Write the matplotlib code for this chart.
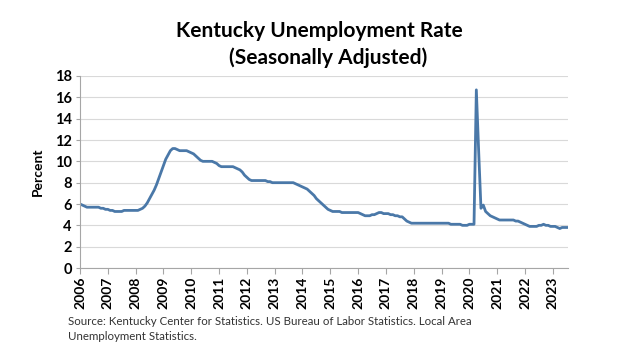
import matplotlib
matplotlib.use("Agg")
import matplotlib.pyplot as plt
import numpy as np

# monthly rates, Jan 2006 - Jul 2023
rate_2006 = [6.0, 5.9, 5.8, 5.7, 5.7, 5.7, 5.7, 5.7, 5.7, 5.6, 5.6, 5.5]
rate_2007 = [5.5, 5.4, 5.4, 5.3, 5.3, 5.3, 5.3, 5.4, 5.4, 5.4, 5.4, 5.4]
rate_2008 = [5.4, 5.4, 5.5, 5.6, 5.8, 6.1, 6.5, 6.9, 7.3, 7.8, 8.4, 9.0]
rate_2009 = [9.6, 10.2, 10.6, 11.0, 11.2, 11.2, 11.1, 11.0, 11.0, 11.0, 11.0, 10.9]
rate_2010 = [10.8, 10.7, 10.5, 10.3, 10.1, 10.0, 10.0, 10.0, 10.0, 10.0, 9.9, 9.8]
rate_2011 = [9.6, 9.5, 9.5, 9.5, 9.5, 9.5, 9.5, 9.4, 9.3, 9.2, 9.0, 8.7]
rate_2012 = [8.5, 8.3, 8.2, 8.2, 8.2, 8.2, 8.2, 8.2, 8.2, 8.1, 8.1, 8.0]
rate_2013 = [8.0, 8.0, 8.0, 8.0, 8.0, 8.0, 8.0, 8.0, 8.0, 7.9, 7.8, 7.7]
rate_2014 = [7.6, 7.5, 7.4, 7.2, 7.0, 6.8, 6.5, 6.3, 6.1, 5.9, 5.7, 5.5]
rate_2015 = [5.4, 5.3, 5.3, 5.3, 5.3, 5.2, 5.2, 5.2, 5.2, 5.2, 5.2, 5.2]
rate_2016 = [5.2, 5.1, 5.0, 4.9, 4.9, 4.9, 5.0, 5.0, 5.1, 5.2, 5.2, 5.1]
rate_2017 = [5.1, 5.1, 5.0, 5.0, 4.9, 4.9, 4.8, 4.8, 4.6, 4.4, 4.3, 4.2]
rate_2018 = [4.2, 4.2, 4.2, 4.2, 4.2, 4.2, 4.2, 4.2, 4.2, 4.2, 4.2, 4.2]
rate_2019 = [4.2, 4.2, 4.2, 4.2, 4.1, 4.1, 4.1, 4.1, 4.1, 4.0, 4.0, 4.0]
rate_2020 = [4.1, 4.1, 4.1, 16.7, 11.0, 5.6, 5.9, 5.3, 5.1, 4.9, 4.8, 4.7]
rate_2021 = [4.6, 4.5, 4.5, 4.5, 4.5, 4.5, 4.5, 4.5, 4.4, 4.4, 4.3, 4.2]
rate_2022 = [4.1, 4.0, 3.9, 3.9, 3.9, 3.9, 4.0, 4.0, 4.1, 4.0, 4.0, 3.9]
rate_2023 = [3.9, 3.9, 3.8, 3.7, 3.8, 3.8, 3.8]

years = [str(y) for y in range(2006, 2024)]

rates = (rate_2006 + rate_2007 + rate_2008 + rate_2009 + rate_2010 + rate_2011
         + rate_2012 + rate_2013 + rate_2014 + rate_2015 + rate_2016 + rate_2017
         + rate_2018 + rate_2019 + rate_2020 + rate_2021 + rate_2022 + rate_2023)
months = np.arange(len(rates))

plt.rcParams['font.family'] = ['Lato', 'DejaVu Sans']

fig = plt.figure(figsize=(6.22, 3.52), dpi=100)
ax = fig.add_axes([0.1286, 0.2386, 0.7844, 0.5455])

ax.plot(months, rates, color='#4a78a8', linewidth=2.0, solid_joinstyle='round')

ax.set_xlim(0, len(rates) - 0.5)
ax.set_ylim(0, 18)
ax.set_yticks(range(0, 19, 2))
ax.set_xticks(np.arange(len(years)) * 12)
ax.set_xticklabels(years, rotation=90, fontweight='bold', fontsize=10)
for lbl in ax.get_yticklabels():
    lbl.set_fontweight('bold')
    lbl.set_fontsize(10.5)

ax.grid(axis='y', color='#d9d9d9', linewidth=0.8)
ax.set_axisbelow(True)
for s in ['top', 'right']:
    ax.spines[s].set_visible(False)
ax.spines['left'].set_color('#a6a6a6')
ax.spines['bottom'].set_color('#a6a6a6')
ax.tick_params(axis='x', length=4, color='#a6a6a6', pad=2)
ax.tick_params(axis='y', length=3, color='#a6a6a6', pad=3)

ax.set_ylabel('Percent', fontweight='bold', fontsize=10, labelpad=8)

fig.text(0.513, 0.913, 'Kentucky Unemployment Rate', ha='center', va='center',
         fontsize=15, fontweight='bold')
fig.text(0.527, 0.835, '(Seasonally Adjusted)', ha='center', va='center',
         fontsize=15, fontweight='bold')

fig.text(0.109, 0.066, 'Source: Kentucky Center for Statistics. US Bureau of Labor Statistics. Local Area\n'
         'Unemployment Statistics.', ha='left', va='center', fontsize=8.3,
         color='#333333', linespacing=1.4)

fig.savefig('out.png', dpi=100)
